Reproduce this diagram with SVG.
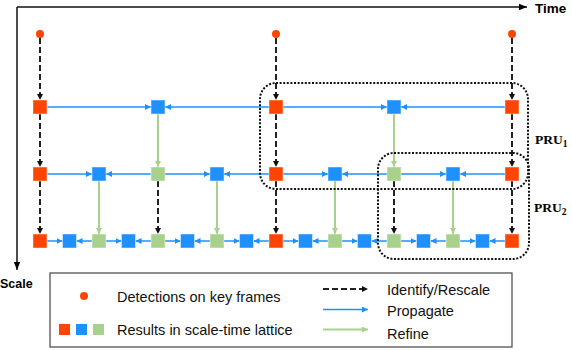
<svg xmlns="http://www.w3.org/2000/svg" width="572" height="350" viewBox="0 0 572 350">
<style>
.r{fill:#FF4500}.b{fill:#1E90FF}.g{fill:#A9D18E}
.sq{stroke:#ffffff;stroke-opacity:0.45;stroke-width:1}
.p{stroke:#1E90FF;stroke-width:1.5;fill:none;marker-end:url(#ab)}
.f{stroke:#A9D18E;stroke-width:2;fill:none;marker-end:url(#ag)}
.d{stroke:#222;stroke-width:2;stroke-dasharray:6 3;fill:none;marker-end:url(#ak)}
.pru{fill:none;stroke:#111;stroke-width:2;stroke-dasharray:2 1.6}
.lt{font-family:"Liberation Sans",Arial,sans-serif;font-size:14.5px;fill:#111}
.ax{font-family:"Liberation Sans",Arial,sans-serif;font-weight:bold;fill:#000}
.pl{font-family:"Liberation Serif","Times New Roman",serif;font-weight:bold;font-size:13.5px;fill:#000}
</style>
<defs>
<marker id="ab" markerWidth="6" markerHeight="6" refX="6" refY="3" orient="auto" markerUnits="userSpaceOnUse"><path d="M0,0 L6,3 L0,6 z" fill="#1E90FF"/></marker>
<marker id="ag" markerWidth="6" markerHeight="6" refX="6" refY="3" orient="auto" markerUnits="userSpaceOnUse"><path d="M0,0 L6,3 L0,6 z" fill="#A9D18E"/></marker>
<marker id="ak" markerWidth="6" markerHeight="6" refX="6" refY="3" orient="auto" markerUnits="userSpaceOnUse"><path d="M0,0 L6,3 L0,6 z" fill="#111"/></marker>
<marker id="ax" markerWidth="8" markerHeight="8" refX="8" refY="4" orient="auto" markerUnits="userSpaceOnUse"><path d="M0,0.8 L8,4 L0,7.2 z" fill="#000"/></marker>
</defs>

<g id="axes">
<path d="M17,7 H527" stroke="#111" stroke-width="1.5" fill="none" marker-end="url(#ax)"/>
<path d="M17,7 V270" stroke="#111" stroke-width="1.5" fill="none" marker-end="url(#ax)"/>
<text class="ax" x="535" y="13" font-size="13.5">Time</text>
<text class="ax" x="0" y="288" font-size="12.5">Scale</text>
</g>

<g id="connectors">
<!-- identify / rescale -->
<path class="d" d="M40,38 V100"/><path class="d" d="M276,38 V100"/><path class="d" d="M512,38 V100"/>
<path class="d" d="M40,114 V167"/><path class="d" d="M276,114 V167"/><path class="d" d="M512,114 V167"/>
<path class="d" d="M40,181 V234"/><path class="d" d="M158,181 V234"/><path class="d" d="M276,181 V234"/><path class="d" d="M394,181 V234"/><path class="d" d="M512,181 V234"/>
<!-- refine -->
<path class="f" d="M158,114 V167"/><path class="f" d="M394,114 V167"/>
<path class="f" d="M99,181 V234"/><path class="f" d="M217,181 V234"/><path class="f" d="M335,181 V234"/><path class="f" d="M453,181 V234"/>
<!-- propagate row 1 -->
<path class="p" d="M47,107 H151"/><path class="p" d="M269,107 H165"/><path class="p" d="M283,107 H387"/><path class="p" d="M505,107 H401"/>
<!-- propagate row 2 -->
<path class="p" d="M47,174 H92"/><path class="p" d="M151,174 H106"/><path class="p" d="M165,174 H210"/><path class="p" d="M269,174 H224"/>
<path class="p" d="M283,174 H328"/><path class="p" d="M387,174 H342"/><path class="p" d="M401,174 H446"/><path class="p" d="M505,174 H460"/>
<!-- propagate row 3 -->
<path class="p" d="M47,241 H62.5"/><path class="p" d="M92,241 H76.5"/><path class="p" d="M106,241 H121.5"/><path class="p" d="M151,241 H135.5"/>
<path class="p" d="M165,241 H180.5"/><path class="p" d="M210,241 H194.5"/><path class="p" d="M224,241 H239.5"/><path class="p" d="M269,241 H253.5"/>
<path class="p" d="M283,241 H298.5"/><path class="p" d="M328,241 H312.5"/><path class="p" d="M342,241 H357.5"/><path class="p" d="M387,241 H371.5"/>
<path class="p" d="M401,241 H416.5"/><path class="p" d="M446,241 H430.5"/><path class="p" d="M460,241 H475.5"/><path class="p" d="M505,241 H489.5"/>
</g>

<g id="detections">
<circle class="r" cx="40" cy="34" r="4"/><circle class="r" cx="276" cy="34" r="4"/><circle class="r" cx="512" cy="34" r="4"/>
</g>

<g id="row1">
<rect class="sq r" x="33" y="100" width="14" height="14"/>
<rect class="sq b" x="151" y="100" width="14" height="14"/>
<rect class="sq r" x="269" y="100" width="14" height="14"/>
<rect class="sq b" x="387" y="100" width="14" height="14"/>
<rect class="sq r" x="505" y="100" width="14" height="14"/>
</g>
<g id="row2">
<rect class="sq r" x="33" y="167" width="14" height="14"/>
<rect class="sq b" x="92" y="167" width="14" height="14"/>
<rect class="sq g" x="151" y="167" width="14" height="14"/>
<rect class="sq b" x="210" y="167" width="14" height="14"/>
<rect class="sq r" x="269" y="167" width="14" height="14"/>
<rect class="sq b" x="328" y="167" width="14" height="14"/>
<rect class="sq g" x="387" y="167" width="14" height="14"/>
<rect class="sq b" x="446" y="167" width="14" height="14"/>
<rect class="sq r" x="505" y="167" width="14" height="14"/>
</g>
<g id="row3">
<rect class="sq r" x="33" y="234" width="14" height="14"/>
<rect class="sq b" x="62.5" y="234" width="14" height="14"/>
<rect class="sq g" x="92" y="234" width="14" height="14"/>
<rect class="sq b" x="121.5" y="234" width="14" height="14"/>
<rect class="sq g" x="151" y="234" width="14" height="14"/>
<rect class="sq b" x="180.5" y="234" width="14" height="14"/>
<rect class="sq g" x="210" y="234" width="14" height="14"/>
<rect class="sq b" x="239.5" y="234" width="14" height="14"/>
<rect class="sq r" x="269" y="234" width="14" height="14"/>
<rect class="sq b" x="298.5" y="234" width="14" height="14"/>
<rect class="sq g" x="328" y="234" width="14" height="14"/>
<rect class="sq b" x="357.5" y="234" width="14" height="14"/>
<rect class="sq g" x="387" y="234" width="14" height="14"/>
<rect class="sq b" x="416.5" y="234" width="14" height="14"/>
<rect class="sq g" x="446" y="234" width="14" height="14"/>
<rect class="sq b" x="475.5" y="234" width="14" height="14"/>
<rect class="sq r" x="505" y="234" width="14" height="14"/>
</g>

<g id="pru1">
<rect class="pru" x="260" y="83" width="268" height="106" rx="16" ry="16"/>
<text class="pl" x="535" y="144">PRU<tspan font-size="9.5" dy="3">1</tspan></text>
</g>
<g id="pru2">
<rect class="pru" x="378" y="153" width="151" height="106" rx="16" ry="16"/>
<text class="pl" x="534" y="212">PRU<tspan font-size="9.5" dy="3">2</tspan></text>
</g>

<g id="legend">
<rect x="50" y="273" width="462" height="74" fill="#fff" stroke="#444" stroke-width="1.2"/>
<circle class="r" cx="84" cy="296" r="4"/>
<text class="lt" x="117" y="301.5">Detections on key frames</text>
<rect class="r" x="59" y="324" width="11" height="11"/>
<rect class="b" x="76" y="324" width="11" height="11"/>
<rect class="g" x="93" y="324" width="11" height="11"/>
<text class="lt" x="117" y="335">Results in scale-time lattice</text>
<path class="d" d="M323,289 H368" stroke-width="1.5" stroke-dasharray="5 3"/>
<text class="lt" x="387" y="295">Identify/Rescale</text>
<path class="p" d="M323,309.5 H368"/>
<text class="lt" x="387" y="316">Propagate</text>
<path class="f" d="M323,329.5 H368" stroke-width="1.5"/>
<text class="lt" x="387" y="338.5">Refine</text>
</g>
</svg>
